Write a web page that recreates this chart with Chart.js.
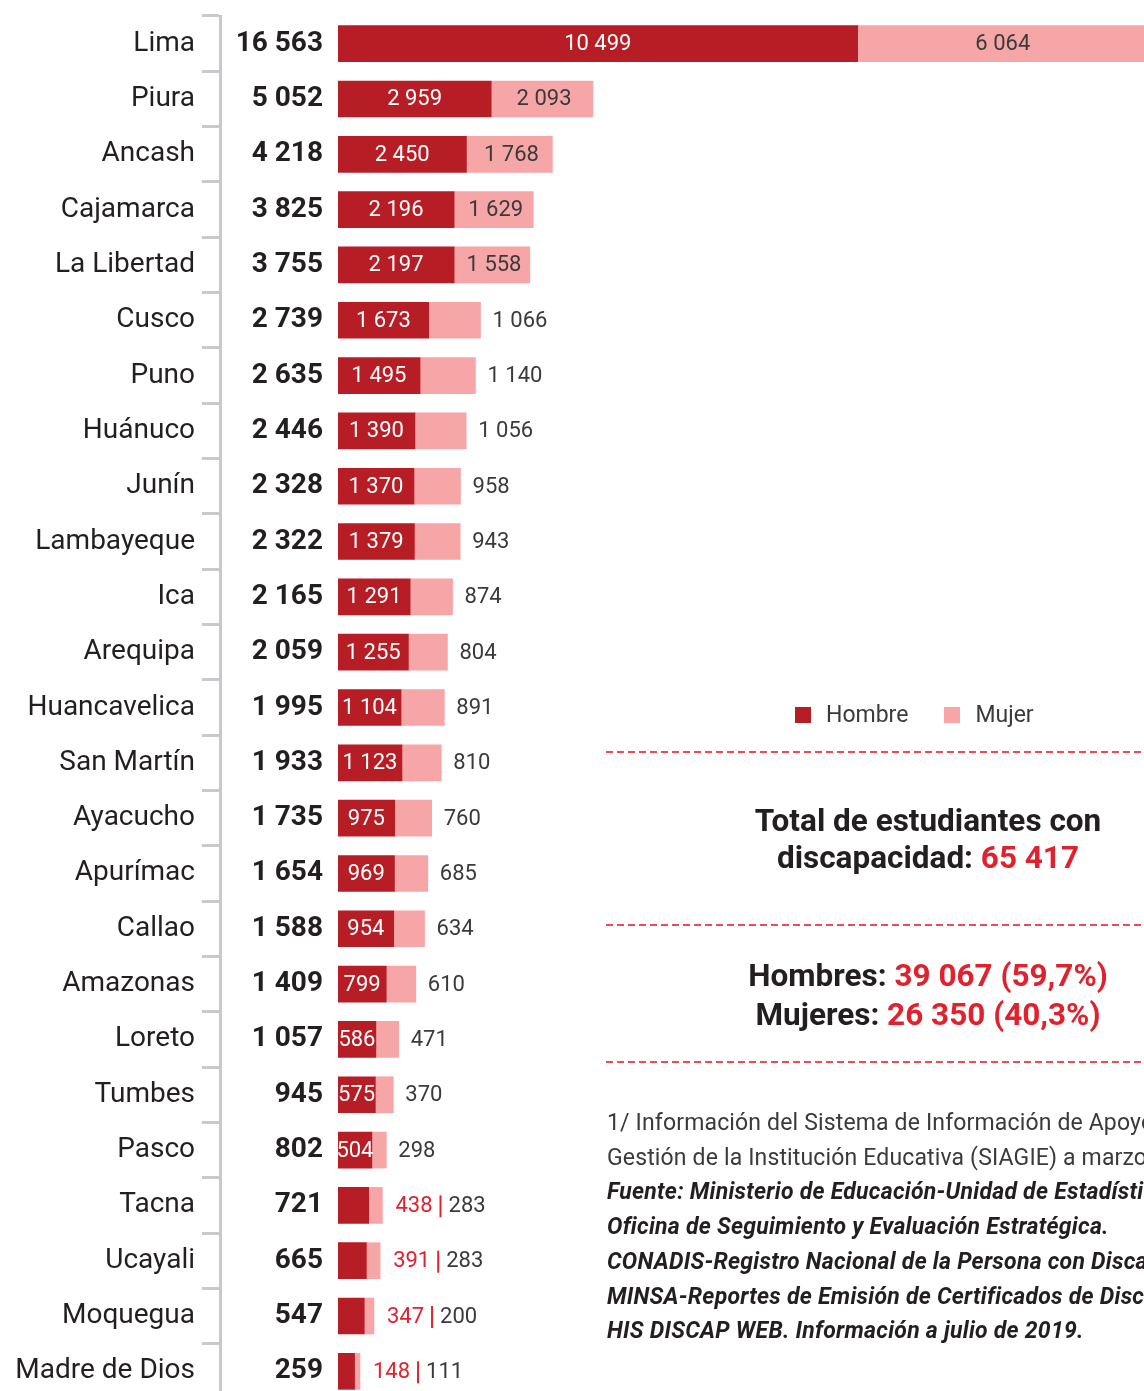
<!DOCTYPE html>
<html lang="es">
<head>
<meta charset="utf-8">
<title>Estudiantes con discapacidad por región</title>
<script src="https://cdn.jsdelivr.net/npm/chart.js@4.4.1/dist/chart.umd.min.js"></script>
<style>
  html, body { margin: 0; padding: 0; background: #fff; overflow: hidden; width: 1144px; height: 1391px; }
  #wrap { position: relative; width: 1144px; height: 1391px; overflow: hidden; font-family: Roboto, "Open Sans", sans-serif; color: #231f20; }
  #chart { position: absolute; left: 0; top: 0; }
  .dash { position: absolute; left: 606px; width: 560px; height: 2px;
          background: repeating-linear-gradient(to right, #ef4a55 0 7px, transparent 7px 11px); }
  #legend { position: absolute; left: 795px; top: 701px; display: flex; align-items: center; font-size: 23px; color: #3a3a3a; white-space: nowrap; }
  #legend .item { display: flex; align-items: center; margin-right: 36px; }
  #legend .sw { width: 16px; height: 16px; margin-right: 15px; }
  .center { position: absolute; left: 606px; width: 644px; text-align: center; font-weight: 700; white-space: nowrap; }
  .red { color: #e0222e; }
  #notes { position: absolute; left: 607px; top: 1106px; width: 600px; font-size: 23px; line-height: 34.7px; color: #3a3a3a; white-space: nowrap; letter-spacing: 0.15px; }
  #notes .bi { font-weight: 700; font-style: italic; color: #231f20; letter-spacing: 0.25px; }
</style>
</head>
<body>
<div id="wrap">
  <canvas id="chart" width="1144" height="1399"></canvas>
  <div id="legend"></div>
  <div class="dash" style="top:751px"></div>
  <div class="center" style="top:802px; font-size:31.5px; line-height:37px;">Total de estudiantes con<br>discapacidad: <span class="red">65 417</span></div>
  <div class="dash" style="top:924px"></div>
  <div class="center" style="top:956px; font-size:31.5px; line-height:39px;">Hombres: <span class="red">39 067 (59,7%)</span><br>Mujeres: <span class="red">26 350 (40,3%)</span></div>
  <div class="dash" style="top:1061px"></div>
  <div id="notes">
    <div>1/ Información del Sistema de Información de Apoyo a la</div>
    <div>Gestión de la Institución Educativa (SIAGIE) a marzo de 2019.</div>
    <div class="bi">Fuente: Ministerio de Educación-Unidad de Estadística.</div>
    <div class="bi">Oficina de Seguimiento y Evaluación Estratégica.</div>
    <div class="bi">CONADIS-Registro Nacional de la Persona con Discapacidad.</div>
    <div class="bi">MINSA-Reportes de Emisión de Certificados de Discapacidad.</div>
    <div class="bi">HIS DISCAP WEB. Información a julio de 2019.</div>
  </div>
</div>
<script>
// ---- Data ----
const regions = ["Lima","Piura","Ancash","Cajamarca","La Libertad","Cusco","Puno","Huánuco","Junín","Lambayeque","Ica","Arequipa","Huancavelica","San Martín","Ayacucho","Apurímac","Callao","Amazonas","Loreto","Tumbes","Pasco","Tacna","Ucayali","Moquegua","Madre de Dios"];
const hombres = [10499,2959,2450,2196,2197,1673,1495,1390,1370,1379,1291,1255,1104,1123,975,969,954,799,586,575,504,438,391,347,148];
const mujeres = [6064,2093,1768,1629,1558,1066,1140,1056,958,943,874,804,891,810,760,685,634,610,471,370,298,283,283,200,111];
const totales = [16563,5052,4218,3825,3755,2739,2635,2446,2328,2322,2165,2059,1995,1933,1735,1654,1588,1409,1057,945,802,721,665,547,259];
const seriesNames = ["Hombre","Mujer"];

// ---- Styles ----
const RED = "#b71d25", PINK = "#f7a6a8", TXT = "#231f20", TXT2 = "#3a3a3a", RED_TXT = "#e0222e", GRAY = "#c8c9cc";
const FONT = "Roboto";
const fmt = v => String(v).replace(/\B(?=(\d{3})+(?!\d))/g, " ");
const AXIS_MIN = -193, AXIS_MAX = 16391;

const labelPlugin = {
  id: "barLabels",
  afterDatasetsDraw(chart) {
    const ctx = chart.ctx;
    const area = chart.chartArea;
    const mMeta = chart.getDatasetMeta(0), fMeta = chart.getDatasetMeta(1);
    ctx.save();
    ctx.font = "400 22px " + FONT;
    ctx.textBaseline = "middle";
    regions.forEach((r, i) => {
      const mb = mMeta.data[i], fb = fMeta.data[i];
      const mStart = Math.max(mb.base, area.left), mEnd = Math.min(mb.x, area.right);
      const fStart = Math.max(fb.base, area.left), fEnd = Math.min(fb.x, area.right);
      const y = mb.y;
      const mTxt = fmt(hombres[i]), fTxt = fmt(mujeres[i]);
      const mW = ctx.measureText(mTxt).width, fW = ctx.measureText(fTxt).width;
      const mInside = (mEnd - mStart) >= mW * 0.9;
      if (mInside) {
        ctx.fillStyle = "#ffffff";
        ctx.textAlign = "center";
        ctx.fillText(mTxt, (mStart + mEnd) / 2, y + 1);
        ctx.fillStyle = TXT2;
        if ((fEnd - fStart) > fW + 12) {
          ctx.textAlign = "center";
          ctx.fillText(fTxt, (fStart + fEnd) / 2 + 2, y + 1);
        } else {
          ctx.textAlign = "left";
          ctx.fillText(fTxt, fEnd + 12, y + 1);
        }
      } else {
        let x = fEnd + 13;
        ctx.textAlign = "left";
        ctx.fillStyle = RED_TXT;
        ctx.fillText(mTxt, x, y + 1);
        x += mW + 7;
        ctx.fillRect(x, y - 10, 2, 22);
        x += 2 + 7;
        ctx.fillStyle = TXT2;
        ctx.fillText(fTxt, x, y + 1);
      }
    });
    ctx.restore();
  }
};

const noPad = s => { s.paddingTop = 0; s.paddingBottom = 0; };

const chart = new Chart(document.getElementById("chart"), {
  type: "bar",
  data: {
    labels: regions,
    datasets: [
      { label: seriesNames[0], data: hombres, backgroundColor: RED, base: AXIS_MIN, barThickness: 36, borderWidth: 0 },
      { label: seriesNames[1], data: mujeres, backgroundColor: PINK, barThickness: 36, borderWidth: 0 }
    ]
  },
  options: {
    indexAxis: "y",
    responsive: false,
    animation: false,
    layout: { padding: { top: 16, bottom: 0, left: 0, right: 0 } },
    plugins: { legend: { display: false }, tooltip: { enabled: false } },
    scales: {
      x: { stacked: true, display: false, min: AXIS_MIN, max: AXIS_MAX },
      y: {
        stacked: true, position: "left", weight: 0, offset: true,
        grid: { display: false, drawTicks: false },
        border: { display: false },
        ticks: {
          autoSkip: false, padding: 15, color: TXT,
          font: { family: FONT, size: 28, weight: "700" },
          callback: (v, i) => fmt(totales[i])
        },
        afterFit: s => { s.width = 118; noPad(s); }
      },
      yNames: {
        type: "category", position: "left", weight: 1, offset: true,
        grid: { display: true, drawOnChartArea: false, drawTicks: true, tickLength: 18, color: GRAY, lineWidth: 3, offset: true },
        border: { display: true, color: GRAY, width: 3 },
        ticks: { autoSkip: false, padding: 7, color: TXT, font: { family: FONT, size: 28, weight: "400" } },
        afterFit: s => { s.width = 220; noPad(s); }
      }
    }
  },
  plugins: [labelPlugin]
});

// HTML legend built from datasets
const lg = document.getElementById("legend");
chart.data.datasets.forEach(ds => {
  const it = document.createElement("div"); it.className = "item";
  const sw = document.createElement("div"); sw.className = "sw"; sw.style.background = ds.backgroundColor;
  const tx = document.createElement("span"); tx.textContent = ds.label;
  it.appendChild(sw); it.appendChild(tx); lg.appendChild(it);
});
</script>
</body>
</html>
